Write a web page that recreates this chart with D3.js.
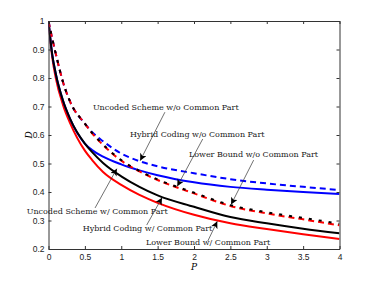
<!DOCTYPE html>
<html>
<head>
<meta charset="utf-8">
<script src="https://cdn.jsdelivr.net/npm/d3@7"></script>
<style>
  body { margin: 0; background: #fff; }
  .tick text { font-family: "Liberation Sans", Arial, sans-serif; font-size: 8.5px; }
  .note { font-family: "DejaVu Serif", serif; font-size: 8px; fill: #1a1a1a; }
</style>
</head>
<body>
<svg id="chart"></svg>
<script>
// power values P and distortion D
const pGrid = [0, 0.05, 0.1, 0.2, 0.3, 0.5, 0.6, 0.75, 1, 1.25, 1.5, 2, 2.5, 3, 3.5, 4];

const uncodedNoCommon = [1, 0.94, 0.885, 0.785, 0.715, 0.64, 0.61, 0.578, 0.535, 0.508, 0.49, 0.466, 0.445, 0.43, 0.418, 0.407];
const hybridNoCommon  = [1, 0.94, 0.885, 0.785, 0.715, 0.64, 0.607, 0.567, 0.512, 0.474, 0.444, 0.398, 0.354, 0.329, 0.309, 0.289];
const lowerNoCommon   = [1, 0.94, 0.885, 0.785, 0.715, 0.64, 0.606, 0.565, 0.51, 0.472, 0.442, 0.395, 0.351, 0.325, 0.304, 0.283];
const uncodedCommon   = [1, 0.885, 0.815, 0.72, 0.655, 0.57, 0.547, 0.524, 0.497, 0.476, 0.459, 0.434, 0.418, 0.408, 0.4, 0.393];
const hybridCommon    = [1, 0.885, 0.815, 0.72, 0.655, 0.57, 0.54, 0.502, 0.455, 0.418, 0.388, 0.348, 0.312, 0.29, 0.271, 0.255];
const lowerCommon     = [1, 0.875, 0.8, 0.705, 0.64, 0.545, 0.512, 0.47, 0.425, 0.39, 0.362, 0.32, 0.29, 0.27, 0.252, 0.235];

const xTicks = [0, 0.5, 1, 1.5, 2, 2.5, 3, 3.5, 4];
const yTicks = [0.2, 0.3, 0.4, 0.5, 0.6, 0.7, 0.8, 0.9, 1];

// annotation text and arrow (from -> to, in data units)
const notes = [
  { text: "Uncoded Scheme w/o Common Part", at: [0.61, 0.688], from: [1.6, 0.68], to: [1.26, 0.51] },
  { text: "Hybrid Coding w/o Common Part", at: [1.12, 0.594], from: [2.12, 0.586], to: [1.77, 0.42] },
  { text: "Lower Bound w/o Common Part", at: [1.93, 0.523], from: [2.82, 0.512], to: [2.51, 0.356] },
  { text: "Uncoded Scheme w/ Common Part", at: [-0.3, 0.323], from: [0.64, 0.344], to: [0.94, 0.482] },
  { text: "Hybrid Coding w/ Common Part", at: [0.47, 0.264], from: [1.35, 0.284], to: [1.56, 0.38] },
  { text: "Lower Bound w/ Common Part", at: [1.34, 0.214], from: [2.19, 0.228], to: [2.32, 0.297] }
];

const width = 374, height = 281;
const box = { left: 48.5, right: 339.5, top: 21, bottom: 249 };

const svg = d3.select("#chart").attr("width", width).attr("height", height);

const x = d3.scaleLinear().domain([0, 4]).range([box.left, box.right]);
const y = d3.scaleLinear().domain([0.2, 1]).range([box.bottom, box.top]);

svg.append("defs").append("marker")
  .attr("id", "head")
  .attr("viewBox", "0 0 10 10")
  .attr("refX", 10).attr("refY", 5)
  .attr("markerWidth", 8).attr("markerHeight", 7)
  .attr("markerUnits", "userSpaceOnUse")
  .attr("orient", "auto")
  .append("path").attr("d", "M0,0 L10,5 L0,10 L2.5,5 z").attr("fill", "#000");

svg.append("clipPath").attr("id", "plot")
  .append("rect")
  .attr("x", box.left).attr("y", box.top)
  .attr("width", box.right - box.left).attr("height", box.bottom - box.top);

function drawCurve(values, color, dash, offset) {
  const line = d3.line()
    .x((d, i) => x(pGrid[i]))
    .y(d => y(d))
    .curve(d3.curveMonotoneX);
  svg.append("path")
    .datum(values)
    .attr("clip-path", "url(#plot)")
    .attr("d", line)
    .attr("fill", "none")
    .attr("stroke", color)
    .attr("stroke-width", 2)
    .attr("stroke-dasharray", dash)
    .attr("stroke-dashoffset", offset || 0);
}

drawCurve(lowerCommon, "#ff0000", null);
drawCurve(uncodedCommon, "#0000ff", null);
drawCurve(hybridCommon, "#000000", null);
drawCurve(uncodedNoCommon, "#0000ff", "6 4");
drawCurve(lowerNoCommon, "#ff0000", "6 4");
drawCurve(hybridNoCommon, "#000000", "3 7");

// axes, MATLAB style: box with inward ticks
const axisColor = "#333";
const xAxis = svg.append("g").attr("transform", `translate(0,${box.bottom})`)
  .call(d3.axisBottom(x).tickValues(xTicks).tickSizeInner(-3).tickSizeOuter(0).tickPadding(5)
    .tickFormat(d => String(d)));
const xTop = svg.append("g").attr("transform", `translate(0,${box.top})`)
  .call(d3.axisTop(x).tickValues(xTicks).tickSizeInner(-3).tickSizeOuter(0).tickFormat(""));
const yAxis = svg.append("g").attr("transform", `translate(${box.left},0)`)
  .call(d3.axisLeft(y).tickValues(yTicks).tickSizeInner(-3).tickSizeOuter(0).tickPadding(4)
    .tickFormat(d => String(+d.toFixed(1))));
const yRight = svg.append("g").attr("transform", `translate(${box.right},0)`)
  .call(d3.axisRight(y).tickValues(yTicks).tickSizeInner(-3).tickSizeOuter(0).tickFormat(""));

[xAxis, xTop, yAxis, yRight].forEach(g => {
  g.selectAll("path.domain").attr("stroke", axisColor).attr("stroke-width", 1);
  g.selectAll(".tick line").attr("stroke", axisColor);
  g.selectAll(".tick text").attr("fill", "#222");
});

// axis titles
svg.append("text")
  .attr("x", x(2)).attr("y", 270)
  .attr("text-anchor", "middle")
  .style("font-family", "DejaVu Serif, serif").style("font-style", "italic").style("font-size", "9px")
  .text("P");
svg.append("text")
  .attr("transform", `translate(32,${y(0.6)}) rotate(-90)`)
  .attr("text-anchor", "middle")
  .style("font-family", "DejaVu Serif, serif").style("font-style", "italic").style("font-size", "9px")
  .text("D");

// annotations with arrows
notes.forEach(n => {
  svg.append("text").attr("class", "note")
    .attr("x", x(n.at[0])).attr("y", y(n.at[1]))
    .text(n.text);
  svg.append("line")
    .attr("x1", x(n.from[0])).attr("y1", y(n.from[1]))
    .attr("x2", x(n.to[0])).attr("y2", y(n.to[1]))
    .attr("stroke", "#333").attr("stroke-width", 0.7)
    .attr("marker-end", "url(#head)");
});
</script>
</body>
</html>
